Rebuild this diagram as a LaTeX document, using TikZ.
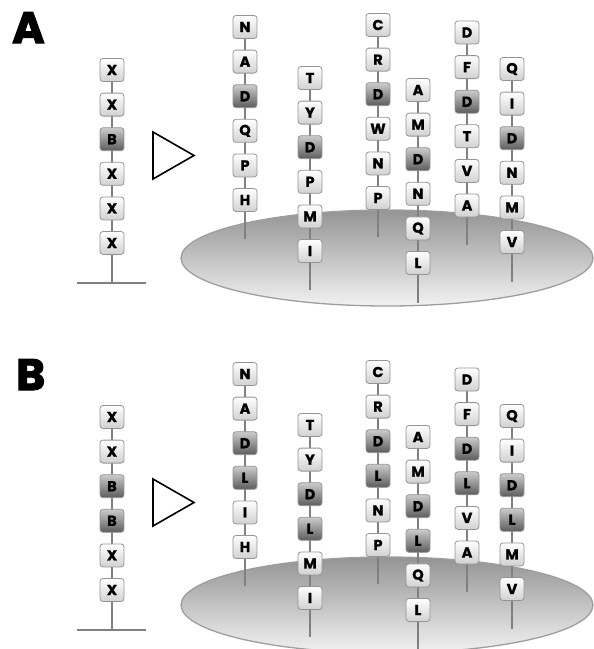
\documentclass[tikz,border=0pt]{standalone}
\usepackage{fontspec}
\setmainfont{Poppins}
\newfontfamily\heavyfont[BoldFeatures={FakeBold=1.2}]{Poppins}
\newfontfamily\labelfont[BoldFeatures={FakeBold=2.5}]{Poppins}
\pgfdeclarelayer{ell}
\pgfdeclarelayer{stemlayer}
\pgfsetlayers{ell,stemlayer,main}
\tikzset{
  res/.style={rectangle, rounded corners=3pt, minimum width=24pt, minimum height=23pt,
    inner sep=0pt, draw=black!42, line width=0.8pt, font=\heavyfont\fontsize{14.5}{14.5}\selectfont\bfseries},
  resL/.style={res, top color=white, bottom color=black!18},
  resD/.style={res, top color=black!20, bottom color=black!64},
  stemline/.style={draw=black!50, line width=2.5pt},
  baseline/.style={draw=black!50, line width=2pt},
  panellabel/.style={inner sep=0pt, anchor=base west, font=\labelfont\fontsize{44}{44}\selectfont\bfseries},
  surface/.style={top color=black!42, bottom color=black!5},
  surfedge/.style={draw=black!38, line width=1.3pt},
  arrowhead/.style={draw=black, line width=1.6pt, line join=miter}
}
\newcommand\pepcol[5]{%
  \foreach \l/\s [count=\i] in {#4} {
    \node[res\s] (#1-\i) at (#2, {#3+34.6*(\i-1)}) {\l};
  }
  \coordinate (#1-end) at (#2,#5);
  \begin{pgfonlayer}{stemlayer}
    \draw[stemline] (#1-1.center) -- (#1-6.center) -- (#1-end);
  \end{pgfonlayer}
}
\begin{document}
\begin{tikzpicture}[x=1pt,y=-1pt]
\useasboundingbox (0,0) rectangle (594,649);
% ---------------- Panel A ----------------
\node[panellabel] (labA) at (12,43) {A};
\begin{pgfonlayer}{ell}
  \shade[surface] (387,258) ellipse [x radius=206, y radius=48];
  \draw[surfedge] (387,258) ellipse [x radius=206, y radius=48];
\end{pgfonlayer}
\pepcol{aL}{112}{70}{X/L,X/L,B/D,X/L,X/L,X/L}{283}
\coordinate (aBl) at (77,283);
\coordinate (aBr) at (146,283);
\begin{pgfonlayer}{stemlayer}
  \draw[baseline] (aBl) -- (aBr);
\end{pgfonlayer}
\draw[arrowhead] (153,132) -- (194,155.5) -- (153,179) -- cycle;
\pepcol{a1}{245}{27}{N/L,A/L,D/D,Q/L,P/L,H/L}{239}
\pepcol{a2}{310}{78}{T/L,Y/L,D/D,P/L,M/L,I/L}{290}
\pepcol{a3}{378}{25}{C/L,R/L,D/D,W/L,N/L,P/L}{237}
\pepcol{a4}{418}{90}{A/L,M/L,D/D,N/L,Q/L,L/L}{303}
\pepcol{a5}{467}{32.5}{D/L,F/L,D/D,T/L,V/L,A/L}{245}
\pepcol{a6}{512}{69}{Q/L,I/L,D/D,N/L,M/L,V/L}{282}
% ---------------- Panel B ----------------
\begin{scope}[yshift=-347pt]
\node[panellabel] (labB) at (16,43) {B};
\begin{pgfonlayer}{ell}
  \shade[surface] (387,258) ellipse [x radius=206, y radius=48];
  \draw[surfedge] (387,258) ellipse [x radius=206, y radius=48];
\end{pgfonlayer}
\pepcol{bL}{112}{70}{X/L,X/L,B/D,B/D,X/L,X/L}{283}
\coordinate (bBl) at (77,283);
\coordinate (bBr) at (146,283);
\begin{pgfonlayer}{stemlayer}
  \draw[baseline] (bBl) -- (bBr);
\end{pgfonlayer}
\draw[arrowhead] (153,132) -- (194,155.5) -- (153,179) -- cycle;
\pepcol{b1}{245}{27}{N/L,A/L,D/D,L/D,I/L,H/L}{239}
\pepcol{b2}{310}{78}{T/L,Y/L,D/D,L/D,M/L,I/L}{290}
\pepcol{b3}{378}{25}{C/L,R/L,D/D,L/D,N/L,P/L}{237}
\pepcol{b4}{418}{90}{A/L,M/L,D/D,L/D,Q/L,L/L}{303}
\pepcol{b5}{467}{32.5}{D/L,F/L,D/D,L/D,V/L,A/L}{245}
\pepcol{b6}{512}{69}{Q/L,I/L,D/D,L/D,M/L,V/L}{282}
\end{scope}
\end{tikzpicture}
\end{document}
